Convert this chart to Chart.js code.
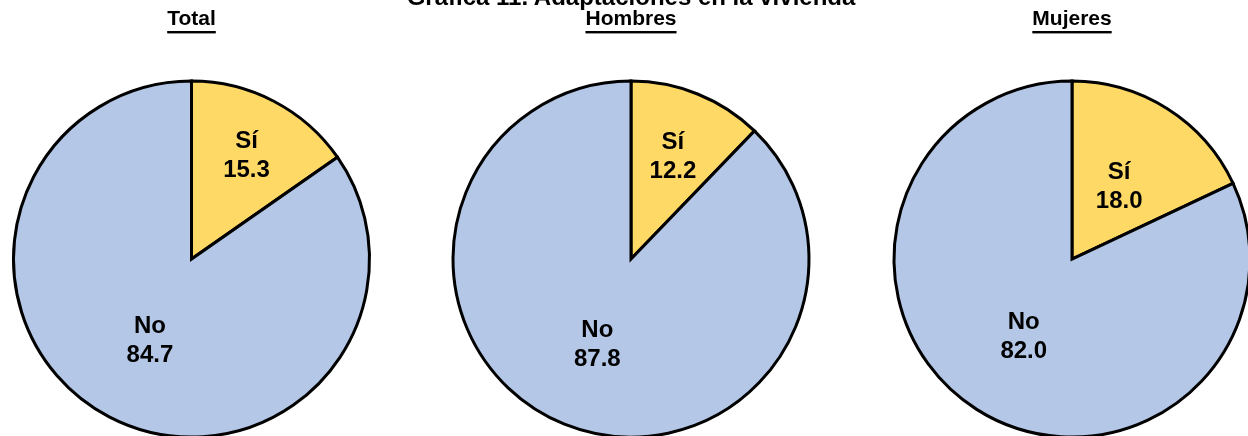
<!DOCTYPE html>
<html lang="es">
<head>
<meta charset="utf-8">
<title>Gráfica 11. Adaptaciones en la vivienda</title>
<script src="https://cdn.jsdelivr.net/npm/chart.js@4.4.1/dist/chart.umd.min.js"></script>
<style>
	html, body {
		margin: 0;
		padding: 0;
		background: #ffffff;
		width: 1248px;
		height: 436px;
		overflow: hidden;
	}
	#stage {
		position: relative;
		width: 1248px;
		height: 436px;
		overflow: hidden;
	}
	#titulo {
		position: absolute;
		top: -15px;
		left: 0;
		width: 1262px;
		text-align: center;
		font: bold 24px "Liberation Sans", Arial, sans-serif;
		line-height: 24px;
		color: #000000;
		white-space: nowrap;
		z-index: 2;
	}
	canvas {
		position: absolute;
		top: 0;
	}
</style>
</head>
<body>
<div id="stage">
	<div id="titulo"></div>
	<canvas id="chart-total" width="441" height="476" style="left:-29px"></canvas>
	<canvas id="chart-hombres" width="440" height="476" style="left:411px"></canvas>
	<canvas id="chart-mujeres" width="440" height="476" style="left:852px"></canvas>
</div>
<script>
const titulo = "Gráfica 11. Adaptaciones en la vivienda";
const categorias = ["Sí", "No"];
const subtitulos = ["Total", "Hombres", "Mujeres"];
const valoresTotal = [15.3, 84.7];
const valoresHombres = [12.2, 87.8];
const valoresMujeres = [18.0, 82.0];

const colores = ["#FFD966", "#B4C7E7"];
const fuente = "'Liberation Sans', Arial, sans-serif";

// label distance from the pie centre, per slice
const paneles = [
	{ id: "chart-total", subtitulo: subtitulos[0], valores: valoresTotal, distancias: [119, 90] },
	{ id: "chart-hombres", subtitulo: subtitulos[1], valores: valoresHombres, distancias: [112, 90] },
	{ id: "chart-mujeres", subtitulo: subtitulos[2], valores: valoresMujeres, distancias: [88, 90] }
];

document.getElementById("titulo").textContent = titulo;

const underlinePlugin = {
	id: "underlineTitle",
	afterDraw(chart) {
		const opts = chart.options.plugins.title;
		const block = chart.titleBlock;
		if (!opts.display || !block) return;
		const ctx = chart.ctx;
		ctx.save();
		ctx.font = `bold ${opts.font.size}px ${fuente}`;
		const w = ctx.measureText(opts.text).width;
		const cx = (block.left + block.right) / 2;
		ctx.fillStyle = "#000000";
		ctx.fillRect(cx - w / 2, 31, w, 2.4);
		ctx.restore();
	}
};

const sliceLabels = {
	id: "sliceLabels",
	afterDatasetsDraw(chart, args, pluginOpts) {
		const ctx = chart.ctx;
		const meta = chart.getDatasetMeta(0);
		const data = chart.data.datasets[0].data;
		ctx.save();
		ctx.font = `bold 24px ${fuente}`;
		ctx.fillStyle = "#000000";
		ctx.textAlign = "center";
		ctx.textBaseline = "alphabetic";
		meta.data.forEach((arc, i) => {
			const { x, y, startAngle, endAngle } = arc.getProps(["x", "y", "startAngle", "endAngle"], true);
			const mid = (startAngle + endAngle) / 2;
			const d = pluginOpts.distancias[i];
			const px = x + Math.cos(mid) * d;
			const py = y + Math.sin(mid) * d;
			ctx.fillText(chart.data.labels[i], px, py - 6);
			ctx.fillText(data[i].toFixed(1), px, py + 23);
		});
		ctx.restore();
	}
};

const renderPie = panel => {
	const ctx = document.getElementById(panel.id).getContext("2d");
	new Chart(ctx, {
		type: "pie",
		data: {
			labels: categorias,
			datasets: [
				{
					data: panel.valores,
					backgroundColor: colores,
					borderColor: "#000000",
					borderWidth: 3,
					borderJoinStyle: "miter"
				}
			]
		},
		options: {
			responsive: false,
			animation: false,
			radius: 178,
			layout: { padding: 0 },
			plugins: {
				legend: { display: false },
				tooltip: { enabled: false },
				title: {
					display: true,
					text: panel.subtitulo,
					color: "#000000",
					font: { family: fuente, size: 21, weight: "bold", lineHeight: 1.2 },
					padding: { top: 7, bottom: 10 }
				},
				sliceLabels: { distancias: panel.distancias }
			}
		},
		plugins: [underlinePlugin, sliceLabels]
	});
};

document.addEventListener("DOMContentLoaded", () => {
	paneles.forEach(renderPie);
});
</script>
</body>
</html>
